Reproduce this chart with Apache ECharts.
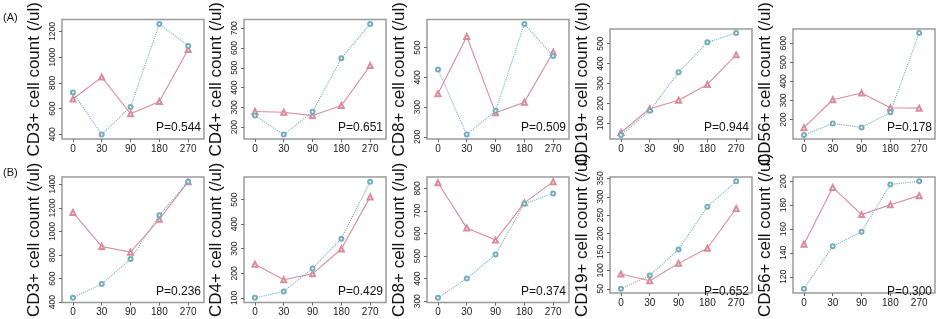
<!DOCTYPE html>
<html>
<head>
<meta charset="utf-8">
<script src="https://cdn.jsdelivr.net/npm/echarts@6/dist/echarts.min.js"></script>
<style>
  html, body { margin: 0; padding: 0; background: #fff; }
  #main-chart-1 { width: 936px; height: 319px; }
</style>
</head>
<body>
<div id="main-chart-1"></div>
<script>
// Gün etiketleri (x ekseni)
const days = ['0', '30', '90', '180', '270'];
const markers = ['CD3+', 'CD4+', 'CD8+', 'CD19+', 'CD56+'];

// (A) satırı - mavi noktalı seri ve kırmızı düz seri
const blueA = [
    [725, 398, 613, 1259, 1088],
    [258, 162, 277, 548, 722],
    [427, 208, 288, 580, 472],
    [41, 163, 356, 507, 554],
    [120, 180, 159, 238, 653]
];
const redA = [
    [675, 845, 560, 655, 1060],
    [279, 275, 258, 309, 511],
    [345, 538, 281, 317, 485],
    [53, 173, 216, 295, 444],
    [158, 304, 339, 262, 260]
];

// (B) satırı
const blueB = [
    [437, 555, 766, 1138, 1423],
    [100, 126, 220, 341, 573],
    [315, 401, 507, 732, 778],
    [50, 86, 157, 273, 342],
    [110, 145.6, 157.8, 197.4, 200]
];
const redB = [
    [1161, 873, 825, 1104, 1423],
    [237, 174, 198, 299, 511],
    [825, 625, 571, 736, 830],
    [90, 72, 119, 160, 268],
    [147.3, 194.9, 172.1, 180.3, 188]
];

// y ekseni tick etiketleri
const ticksA = [
    [400, 600, 800, 1000, 1200],
    [200, 300, 400, 500, 600, 700],
    [200, 300, 400, 500],
    [100, 200, 300, 400, 500],
    [200, 300, 400, 500, 600]
];
const ticksB = [
    [400, 600, 800, 1000, 1200, 1400],
    [100, 200, 300, 400, 500],
    [300, 400, 500, 600, 700, 800],
    [50, 100, 150, 200, 250, 300, 350],
    [120, 140, 160, 180, 200]
];

// P değerleri
const pA = ['0.544', '0.651', '0.509', '0.944', '0.178'];
const pB = ['0.236', '0.429', '0.374', '0.652', '0.300'];

const FONT = 'Liberation Sans, Arial, sans-serif';
const NARROW = 'Liberation Sans Narrow, Arial Narrow, sans-serif';
const BLUE = '#76adba';
const RED = '#d98c9c';
const lefts = [62, 244, 427, 610, 793];
const W = 142, H = 126;
const tops = [13, 177];

const rows = [
    { blue: blueA, red: redA, ticks: ticksA, p: pA },
    { blue: blueB, red: redB, ticks: ticksB, p: pB }
];

const grids = [], xAxes = [], yAxes = [], series = [], titles = [];

const panelTag = { fontFamily: FONT, fontSize: 11, fontWeight: 'normal', color: '#111' };
titles.push({ text: '(A)', left: 3, top: 12, padding: 0, textStyle: panelTag });
titles.push({ text: '(B)', left: 3, top: 167, padding: 0, textStyle: panelTag });

const toPairs = arr => arr.map((v, i) => [i, v]);

rows.forEach((row, r) => {
    for (let c = 0; c < 5; c++) {
        const idx = grids.length;
        grids.push({
            left: lefts[c], top: tops[r], width: W, height: H,
            show: true, borderColor: '#9a9a9a', borderWidth: 1.5
        });
        xAxes.push({
            type: 'value', gridIndex: idx, min: -0.38, max: 4.55,
            axisLine: { show: false, onZero: false },
            splitLine: { show: false },
            axisTick: { show: true, inside: false, length: 3, customValues: [0, 1, 2, 3, 4], lineStyle: { color: '#666' } },
            axisLabel: {
                customValues: [0, 1, 2, 3, 4],
                formatter: v => days[Math.round(v)],
                fontFamily: FONT, fontSize: 10, color: '#222', margin: 5
            }
        });
        yAxes.push({
            type: 'value', gridIndex: idx,
            min: v => v.min - 0.04 * (v.max - v.min),
            max: v => v.max + 0.04 * (v.max - v.min),
            name: markers[c] + ' cell count (/ul)',
            nameLocation: 'middle', nameRotate: 90, nameGap: 19,
            nameTextStyle: { fontFamily: FONT, fontSize: 17, color: '#111' },
            axisLine: { show: false, onZero: false },
            splitLine: { show: false },
            axisTick: { show: true, inside: false, length: 3, customValues: row.ticks[c], lineStyle: { color: '#666' } },
            axisLabel: {
                customValues: row.ticks[c], rotate: 90,
                align: 'center', verticalAlign: 'top',
                formatter: v => String(v),
                fontFamily: NARROW, fontSize: 8.5, color: '#222', margin: 14
            }
        });
        series.push({
            type: 'line', xAxisIndex: idx, yAxisIndex: idx,
            data: toPairs(row.red[c]),
            symbol: 'emptyTriangle', symbolSize: 5,
            lineStyle: { color: RED, width: 1.1 },
            itemStyle: { color: RED, borderColor: RED, borderWidth: 1 },
            animation: false
        });
        series.push({
            type: 'line', xAxisIndex: idx, yAxisIndex: idx,
            data: toPairs(row.blue[c]),
            symbol: 'emptyCircle', symbolSize: 4,
            lineStyle: { color: BLUE, width: 1.1, type: 'dotted' },
            itemStyle: { color: BLUE, borderColor: BLUE, borderWidth: 1 },
            animation: false
        });
        titles.push({
            text: 'P=' + row.p[c],
            right: 936 - (lefts[c] + W) + 3,
            top: tops[r] + H - 17,
            padding: 0,
            textStyle: { fontFamily: FONT, fontSize: 12, fontWeight: 'normal', color: '#111' }
        });
    }
});

const chart = echarts.init(document.getElementById('main-chart-1'));
chart.setOption({
    animation: false,
    title: titles,
    grid: grids,
    xAxis: xAxes,
    yAxis: yAxes,
    series: series
});

window.addEventListener('resize', () => chart.resize());
</script>
</body>
</html>
